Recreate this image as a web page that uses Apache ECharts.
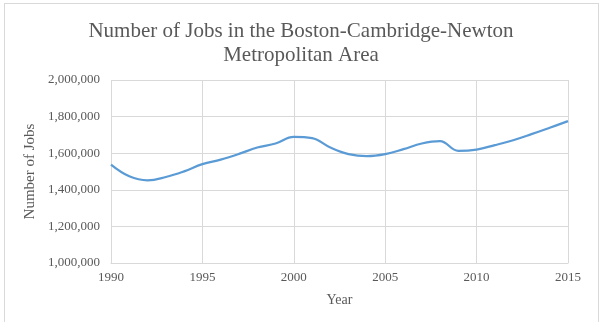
<!DOCTYPE html>
<html>
<head>
<meta charset="utf-8">
<script src="https://cdn.jsdelivr.net/npm/echarts@6/dist/echarts.min.js"></script>
<style>
  html, body { margin: 0; padding: 0; background: #fff; }
  #chart { width: 602px; height: 322px; }
  #frame { position: absolute; left: 4px; top: 3px; width: 593px; height: 330px; border: 1px solid #d9d9d9; pointer-events: none; }
</style>
</head>
<body>
<div id="chart"></div>
<div id="frame"></div>
<script>
// jobs per year
var years = [1990, 1991, 1992, 1993, 1994, 1995, 1996, 1997, 1998, 1999, 2000, 2001, 2002,
             2003, 2004, 2005, 2006, 2007, 2008, 2009, 2010, 2011, 2012, 2013, 2014, 2015];
var jobs = [1538000, 1474000, 1452000, 1470000, 1501000, 1540000, 1565000, 1596000, 1631000,
            1653000, 1689000, 1682000, 1631000, 1595000, 1584000, 1595000, 1622000, 1653000,
            1666000, 1613000, 1620000, 1644000, 1671000, 1704000, 1739000, 1775000];
var yTicks = [1000000, 1200000, 1400000, 1600000, 1800000, 2000000];

var chart = echarts.init(document.getElementById('chart'));

var points = [];
for (var i = 0; i < years.length; i++) {
    points.push([years[i], jobs[i]]);
}

var serif = '"Liberation Serif", "Times New Roman", serif';

var option = {
    title: {
        text: 'Number of Jobs in the Boston-Cambridge-Newton\nMetropolitan Area',
        left: 'center',
        top: 14,
        textStyle: {
            fontFamily: serif,
            fontSize: 21,
            fontWeight: 'normal',
            color: '#595959',
            lineHeight: 24
        }
    },
    grid: {
        left: 111,
        top: 80,
        width: 457,
        height: 183
    },
    xAxis: {
        type: 'value',
        min: 1990,
        max: 2015,
        interval: 5,
        name: 'Year',
        nameLocation: 'middle',
        nameGap: 30,
        nameTextStyle: { fontFamily: serif, fontSize: 14, color: '#595959' },
        axisLine: { lineStyle: { color: '#d9d9d9' } },
        axisTick: { show: false },
        axisLabel: {
            fontFamily: serif, fontSize: 13, color: '#595959', margin: 8,
            formatter: function (v) { return String(v); }
        },
        splitLine: { show: true, lineStyle: { color: '#d9d9d9' } }
    },
    yAxis: {
        type: 'value',
        min: yTicks[0],
        max: yTicks[yTicks.length - 1],
        interval: 200000,
        name: 'Number of Jobs',
        nameLocation: 'middle',
        nameGap: 68,
        nameTextStyle: { fontFamily: serif, fontSize: 15, color: '#595959' },
        axisLine: { show: false },
        axisTick: { show: false },
        axisLabel: {
            fontFamily: serif, fontSize: 13, color: '#595959', margin: 11,
            formatter: function (v) { return v.toLocaleString('en-US'); }
        },
        splitLine: { show: true, lineStyle: { color: '#d9d9d9' } }
    },
    series: [{
        type: 'line',
        data: points,
        smooth: 0.4,
        showSymbol: false,
        lineStyle: { color: '#5b9bd5', width: 2.25 }
    }]
};
chart.setOption(option);
</script>
</body>
</html>
